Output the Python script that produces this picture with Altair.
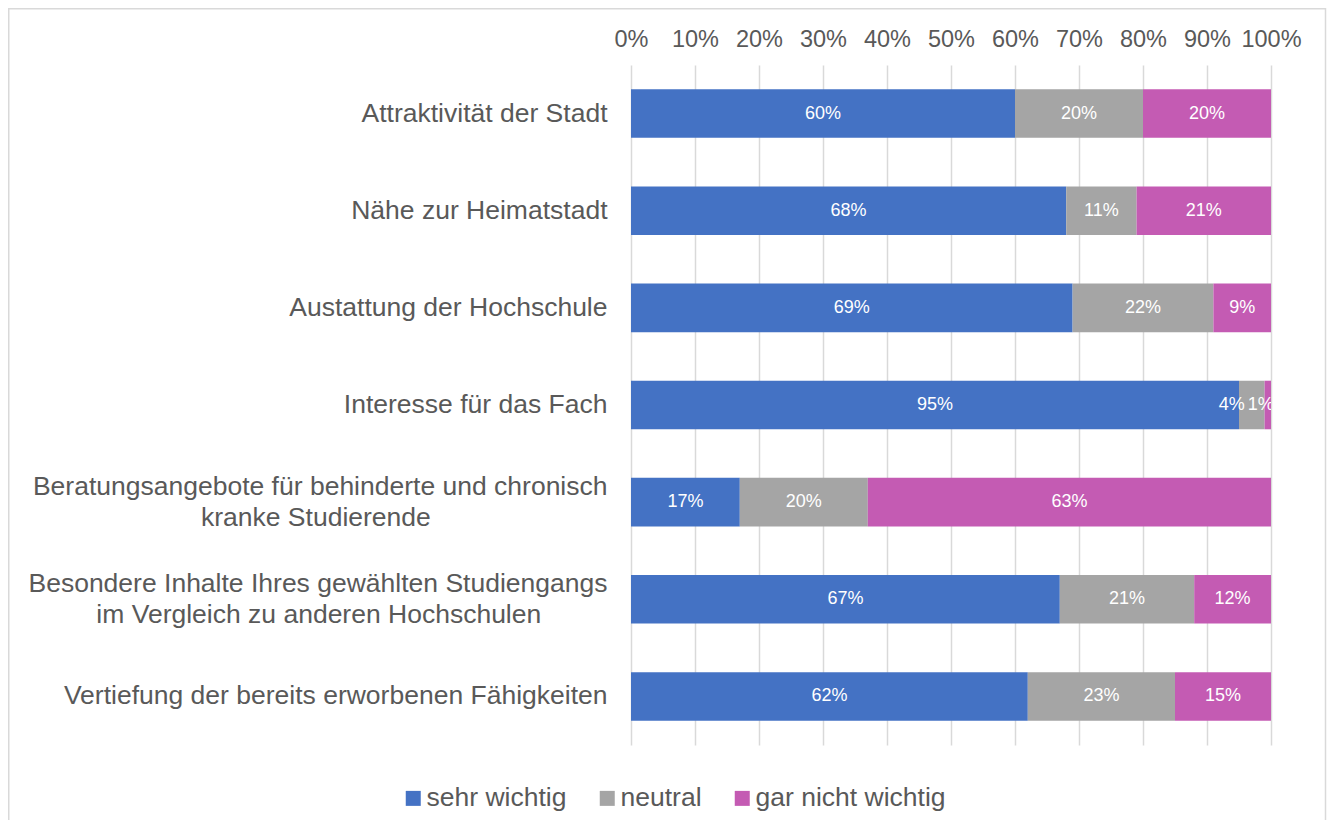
import altair as alt
import pandas as pd

NB = "\u00a0"
ZW = "\u200b"

# Category labels ("|" marks a line break; trailing no-break spaces centre the 2nd line)
categories = [
    "Attraktivität der Stadt",
    "Nähe zur Heimatstadt",
    "Austattung der Hochschule",
    "Interesse für das Fach",
    "Beratungsangebote für behinderte und chronisch|kranke Studierende" + NB * 24 + ZW,
    "Besondere Inhalte Ihres gewählten Studiengangs|im Vergleich zu anderen Hochschulen" + NB * 9 + ZW,
    "Vertiefung der bereits erworbenen Fähigkeiten",
]
series = ["sehr wichtig", "neutral", "gar nicht wichtig"]
sehr_wichtig = [60, 68, 69, 95, 17, 67, 62]
neutral = [20, 11, 22, 4, 20, 21, 23]
gar_nicht_wichtig = [20, 21, 9, 1, 63, 12, 15]
colors = ["#4472C4", "#A5A5A5", "#C45BB3"]
x_ticks = [0, 10, 20, 30, 40, 50, 60, 70, 80, 90, 100]

rows = []
for i, cat in enumerate(categories):
    for j, (s, vals) in enumerate(zip(series, [sehr_wichtig, neutral, gar_nicht_wichtig])):
        rows.append({"cat": cat, "series": s, "order": j, "value": vals[i]})
df = pd.DataFrame(rows)

FONT = "Liberation Sans"
GREY_TXT = "#595959"

base = alt.Chart(df).transform_stack(
    stack="value", groupby=["cat"], as_=["v0", "v1"], sort=[alt.SortField("order")]
).transform_calculate(mid="(datum.v0 + datum.v1) / 2")

y_enc = alt.Y(
    "cat:N",
    sort=categories,
    scale=alt.Scale(paddingInner=0.5, paddingOuter=0.25),
    axis=alt.Axis(
        title=None,
        labelExpr="split(datum.label, '|')",
        labelFontSize=26.5,
        labelColor=GREY_TXT,
        labelPadding=24,
        labelLimit=0,
        labelLineHeight=31,
        labelOffset={"condition": {"test": "indexof(datum.label, '|') >= 0", "value": -15.5}, "value": 0},
        ticks=False,
        tickSize=0,
        domain=False,
        grid=False,
    ),
)

bars = base.mark_bar().encode(
    x=alt.X(
        "v0:Q",
        scale=alt.Scale(domain=[0, 100], nice=False),
        axis=alt.Axis(
            orient="top",
            title=None,
            values=x_ticks,
            labelExpr="datum.value + '%'",
            labelFontSize=23.5,
            labelColor=GREY_TXT,
            labelPadding=14,
            labelOverlap=False,
            labelFlush=False,
            ticks=False,
            tickSize=0,
            domain=False,
            grid=True,
            gridColor="#D9D9D9",
            gridWidth=1.5,
        ),
    ),
    x2="v1:Q",
    y=y_enc,
    color=alt.Color(
        "series:N",
        scale=alt.Scale(domain=series, range=colors),
        legend=alt.Legend(
            title=None,
            orient="none",
            legendX=-231,
            legendY=720,
            direction="horizontal",
            symbolType="square",
            symbolSize=225,
            symbolStrokeWidth=0,
            labelFontSize=26.5,
            labelColor=GREY_TXT,
            labelOffset=0,
            labelLimit=0,
            columnPadding=27,
            padding=0,
        ),
    ),
)

labels = base.mark_text(
    color="white",
    fontSize=18,
    clip=True,
    dx={"expr": "datum.value < 3 ? -7 : (datum.value < 6 ? -20 : 0)"},
).encode(
    x="mid:Q",
    y=alt.Y("cat:N", sort=categories),
    text=alt.Text("label:N"),
).transform_calculate(label="datum.value + '%'")

border = alt.Chart(pd.DataFrame({"k": [0]})).mark_rect(
    fill="white", fillOpacity=0, stroke="#D9D9D9", strokeWidth=1.5
).encode(
    x=alt.value(-622.25), x2=alt.value(694.5), y=alt.value(-56.25), y2=alt.value(760)
)

chart = alt.layer(border, bars, labels).properties(
    width=640,
    height=680,
    padding={"left": 623, "top": 57, "right": 56, "bottom": 75},
    autosize=alt.AutoSizeParams(type="none"),
).configure(font=FONT).configure_view(strokeWidth=0)

chart.save("out.html", embed_options={"renderer": "svg", "actions": False})
